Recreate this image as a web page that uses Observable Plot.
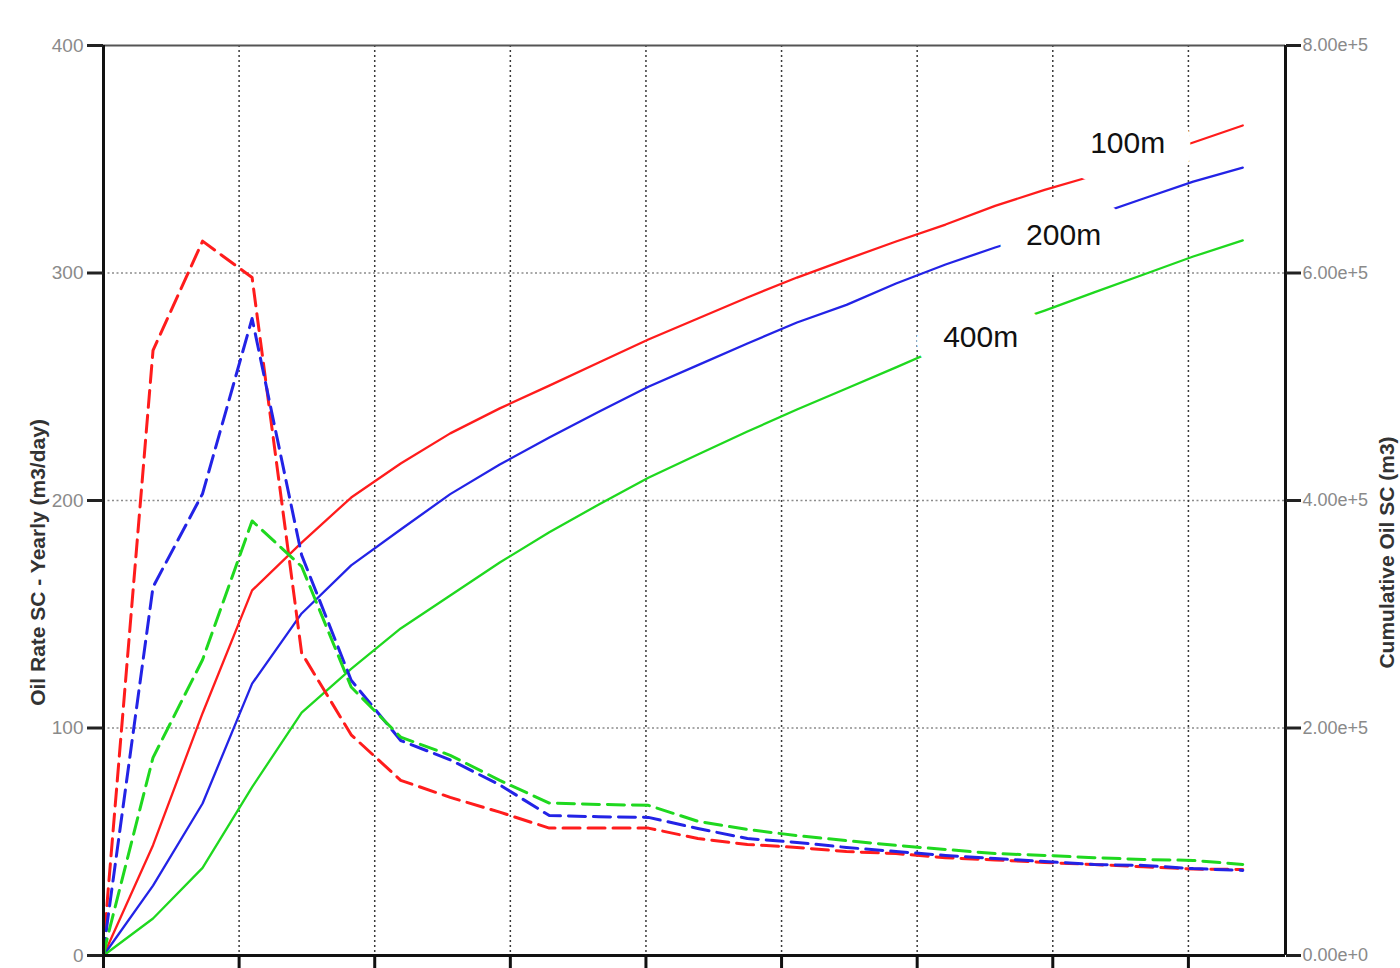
<!DOCTYPE html>
<html>
<head>
<meta charset="utf-8">
<script src="https://cdn.jsdelivr.net/npm/d3@7"></script>
<script src="https://cdn.jsdelivr.net/npm/@observablehq/plot@0.6"></script>
<style>
  html, body { margin: 0; padding: 0; background: #fff; }
  #chart svg { display: block; }
</style>
</head>
<body>
<div id="chart"></div>
<script>
// ---- data ----
// yearly oil rate (m3/day), left axis
const rateYears = [0, 0.08, 1, 2, 3, 4, 5, 6, 7, 8, 9, 10, 11, 12, 13, 14, 15, 16, 17, 18, 19, 20, 21, 22, 23];
const rate100 = [0, 25, 266, 314, 298, 133, 97, 77, 69.5, 63, 56, 56, 56, 51.4, 48.8, 47.5, 45.7, 44.8, 43, 42, 40.9, 40, 39, 38, 37.8];
const rate200 = [0, 15, 162, 203, 280, 176, 121, 94.5, 86, 75, 61.5, 61, 60.7, 55.8, 51.4, 49.7, 47.5, 45.7, 44, 42.6, 41.3, 40, 39.6, 38.2, 37.4];
const rate400 = [0, 8, 87, 130, 191, 171, 118, 96, 88, 77, 67, 66.4, 66, 59, 55.4, 52.7, 50.5, 48.4, 46.6, 44.8, 44, 43, 42.2, 41.8, 40];

// cumulative oil (m3), right axis
const cumYears = [0, 1, 2, 3, 4, 5, 6, 7, 8, 9, 10, 11, 12, 13, 14, 15, 16, 17, 18, 19, 20, 21, 22, 23];
const cum100 = [0, 97000, 213000, 321000, 363000, 402600, 432500, 459000, 481000, 501000, 521300, 541500, 560000, 578500, 596000, 612000, 627700, 642600, 659000, 673000, 685700, 700700, 714700, 729700];
const cum200 = [0, 61500, 133600, 239000, 300700, 343000, 374500, 405600, 431600, 455400, 478000, 500000, 519000, 538000, 556500, 572000, 590800, 607500, 622400, 636000, 650500, 665500, 680400, 692700];
const cum400 = [0, 32500, 77000, 148000, 213600, 252000, 287500, 316500, 345500, 372000, 396500, 420000, 440400, 460600, 480000, 498500, 517000, 536000, 552000, 567000, 583000, 598700, 614500, 628600];

const seriesNames = ["100m", "200m", "400m"];
const seriesColors = ["#ff1c1c", "#2323e6", "#1fd81f"];

// axes
const leftTicks = [0, 100, 200, 300, 400];
const rightTicks = [0, 200000, 400000, 600000, 800000];
const xTicks = [0, 1000, 2000, 3000, 4000, 5000, 6000, 7000, 8000]; // days
const xMaxDays = 8716;
const rightMax = 800000;
const leftMax = 400;

// in-chart labels (days, left-axis units)
const labelText = ["100m", "200m", "400m"];
const labelX = [7552, 7080, 6468];
const labelY = [357, 316.5, 271.6];

const yTitleLeft = "Oil Rate SC - Yearly (m3/day)";
const yTitleRight = "Cumulative Oil SC (m3)";

// ---- build tables ----
const DAYS = 365.25;
const k = rightMax / leftMax; // cumulative -> left-axis units
const rates = [rate100, rate200, rate400];
const cums = [cum100, cum200, cum400];
const rateRows = [], cumRows = [];
seriesNames.forEach((s, i) => {
  rateYears.forEach((t, j) => rateRows.push({s, t: t * DAYS, v: rates[i][j]}));
  cumYears.forEach((t, j) => cumRows.push({s, t: t * DAYS, v: cums[i][j] / k}));
});
const labels = labelText.map((t, i) => ({t, x: labelX[i], y: labelY[i]}));

const sans = "'Liberation Sans', Arial, 'DejaVu Sans', sans-serif";

const chart = Plot.plot({
  width: 1400,
  height: 968,
  marginLeft: 103,
  marginRight: 115,
  marginTop: 45,
  marginBottom: 13,
  style: {background: "#fff", fontFamily: sans},
  x: {domain: [0, xMaxDays]},
  y: {domain: [0, leftMax]},
  color: {domain: seriesNames, range: seriesColors},
  marks: [
    Plot.gridY([100, 200, 300], {stroke: "#8c8c8c", strokeOpacity: 1, strokeWidth: 1.6, strokeDasharray: "2,2.5"}),
    Plot.gridX(xTicks.slice(1), {stroke: "#3a3a3a", strokeOpacity: 1, strokeWidth: 1.5, strokeDasharray: "2,3"}),
    Plot.ruleY([leftMax], {stroke: "#555", strokeWidth: 2}),
    Plot.line(cumRows, {x: "t", y: "v", z: "s", stroke: "s", strokeWidth: 2.3}),
    Plot.line(rateRows, {x: "t", y: "v", z: "s", stroke: "s", strokeWidth: 3, strokeDasharray: "17,8"}),
    Plot.text(labels, {x: "x", y: "y", text: "t", fontSize: 30, fontFamily: sans, fill: "#111",
      stroke: "white", strokeWidth: 54, strokeLinejoin: "round", paintOrder: "stroke"}),
    Plot.ruleX([0], {stroke: "#111", strokeWidth: 3}),
    Plot.ruleX([xMaxDays], {stroke: "#111", strokeWidth: 3}),
    Plot.ruleY([0], {stroke: "#111", strokeWidth: 3}),
    Plot.axisY(leftTicks, {anchor: "left", tickSize: 16, tickPadding: 4, strokeWidth: 3, stroke: "#222",
      fill: "#8a8a8a", fontSize: 19, fontFamily: sans, label: null}),
    Plot.axisY(rightTicks.map(d => d / k), {anchor: "right", tickSize: 15, tickPadding: 2, strokeWidth: 3, stroke: "#222",
      fill: "#8a8a8a", fontSize: 18, fontFamily: sans, label: null,
      tickFormat: d => (d * k).toExponential(2)}),
    Plot.axisX(xTicks, {anchor: "bottom", tickSize: 13, strokeWidth: 3, stroke: "#111", tickFormat: () => "", label: null}),
    Plot.text([yTitleLeft], {frameAnchor: "left", dx: -65, dy: 62, rotate: -90, textAnchor: "middle",
      fontSize: 21, fontWeight: "bold", fill: "#333", fontFamily: sans}),
    Plot.text([yTitleRight], {frameAnchor: "right", dx: 102, dy: 52, rotate: -90, textAnchor: "middle",
      fontSize: 21, fontWeight: "bold", fill: "#333", fontFamily: sans})
  ]
});
document.getElementById("chart").appendChild(chart);
</script>
</body>
</html>
